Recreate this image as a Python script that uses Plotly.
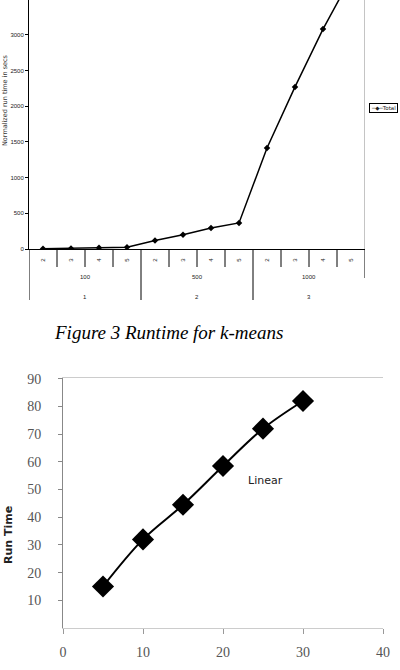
import plotly.graph_objects as go

# ---- data: top chart (Figure 3 runtime for k-means) ----
sub_labels = ["2", "3", "4", "5", "2", "3", "4", "5", "2", "3", "4", "5"]
group_labels = ["100", "500", "1000"]
group_ids = ["1", "2", "3"]
total_runtime = [5, 8, 18, 25, 120, 200, 295, 365, 1415, 2270, 3080, 3800]
top_yticks = [0, 500, 1000, 1500, 2000, 2500, 3000]
series_name = "Total"

# ---- data: bottom chart (Linear) ----
lin_x = [5, 10, 15, 20, 25, 30]
lin_y = [15, 32, 44.5, 58.5, 72, 82]
bot_yticks = [10, 20, 30, 40, 50, 60, 70, 80, 90]
bot_xticks = [0, 10, 20, 30, 40]

W, H = 400, 670
def py(p):
    return 1 - p / H

fig = go.Figure()
idx = list(range(len(total_runtime)))
fig.add_trace(go.Scatter(
    x=idx, y=total_runtime, mode="lines+markers", name=series_name,
    line=dict(color="black", width=1.5),
    marker=dict(symbol="diamond", size=5, color="black"),
    xaxis="x", yaxis="y", showlegend=False, cliponaxis=True))

fig.add_trace(go.Scatter(
    x=lin_x, y=lin_y, mode="lines+markers", name="Linear",
    line=dict(color="black", width=2, shape="spline"),
    marker=dict(symbol="diamond", size=17, color="black"),
    xaxis="x2", yaxis="y2", showlegend=False))

small = dict(family="Liberation Sans, Arial", size=6, color="#222")

fig.update_layout(
    width=W, height=H, margin=dict(l=0, r=0, t=0, b=0, autoexpand=False),
    paper_bgcolor="white", plot_bgcolor="white",
    xaxis=dict(domain=[29 / W, 365 / W], range=[-0.5, 11.5],
               tickvals=idx, ticktext=sub_labels, tickangle=-90,
               tickfont=small, showgrid=False, zeroline=False,
               showline=True, linecolor="black", linewidth=1,
               ticks="", ticklabelstandoff=6, automargin=False),
    yaxis=dict(domain=[py(249), 1.0], range=[0, 3487],
               tickvals=top_yticks, tickfont=small, showgrid=False,
               zeroline=False, showline=True, linecolor="black",
               linewidth=1, ticks="outside", ticklen=3,
               tickcolor="black", anchor="x", automargin=False),
    xaxis2=dict(domain=[63 / W, 383 / W], range=[0, 40],
                tickvals=bot_xticks, showgrid=False, zeroline=False,
                showline=True, linecolor="#cccccc", linewidth=1,
                mirror=True, ticks="outside", ticklen=5,
                tickcolor="#999", anchor="y2", ticklabelstandoff=6,
                automargin=False,
                tickfont=dict(family="Liberation Serif", size=14, color="#555")),
    yaxis2=dict(domain=[py(628), py(378)], range=[0, 90.3],
                tickvals=bot_yticks, showgrid=False, zeroline=False,
                showline=True, linecolor="#888", linewidth=1,
                ticks="outside", ticklen=4, tickcolor="#888",
                anchor="x2", ticklabelstandoff=14, automargin=False,
                tickfont=dict(family="Liberation Serif", size=14, color="#555")),
)

shapes = []
# right border of top plot
shapes.append(dict(type="line", xref="x", yref="paper", x0=11.5, x1=11.5,
                   y0=py(249), y1=1.0, line=dict(color="#888", width=1)))
# category dividers under the top axis
for i in range(len(sub_labels) + 1):
    b = i - 0.5
    if i % 4 == 0 and i < len(sub_labels):
        yb = py(300)
    elif i == len(sub_labels):
        yb = py(278)
    else:
        yb = py(267)
    shapes.append(dict(type="line", xref="x", yref="paper", x0=b, x1=b,
                       y0=py(249), y1=yb, line=dict(color="black", width=1)))
fig.update_layout(shapes=shapes)

ann = []
for g in range(3):
    cx = g * 4 + 1.5
    ann.append(dict(x=cx, y=py(277), xref="x", yref="paper", text=group_labels[g],
                    showarrow=False, font=small, xanchor="center", yanchor="middle"))
    ann.append(dict(x=cx, y=py(297), xref="x", yref="paper", text=group_ids[g],
                    showarrow=False, font=small, xanchor="center", yanchor="middle"))
# small legend box for the top chart
ann.append(dict(x=369 / W, y=py(108), xref="paper", yref="paper",
                text="\u2500\u25c6\u2500" + series_name, showarrow=False,
                xanchor="left", yanchor="middle", bordercolor="black",
                borderwidth=1, borderpad=1, bgcolor="white",
                font=dict(family="DejaVu Sans", size=5.5, color="#222")))
ann.append(dict(x=5 / W, y=py(100), xref="paper", yref="paper",
                text="Normalized run time in secs", textangle=-90,
                xanchor="center", yanchor="middle",
                showarrow=False, font=dict(family="DejaVu Sans", size=6.5, color="#333")))
ann.append(dict(x=168 / W, y=py(332), xref="paper", yref="paper",
                text="<i>Figure 3 Runtime for k-means</i>", showarrow=False,
                xanchor="center", yanchor="middle",
                font=dict(family="Liberation Serif", size=19, color="black")))
ann.append(dict(x=8 / W, y=py(535), xref="paper", yref="paper",
                text="<b>Run Time</b>", textangle=-90, showarrow=False,
                xanchor="center", yanchor="middle",
                font=dict(family="DejaVu Sans", size=11, color="#222")))
ann.append(dict(x=25.3, y=53.4, xref="x2", yref="y2", text="Linear",
                xanchor="center", yanchor="middle",
                showarrow=False, font=dict(family="DejaVu Sans", size=11, color="#222")))
fig.update_layout(annotations=ann)

fig.write_html("out.html")
